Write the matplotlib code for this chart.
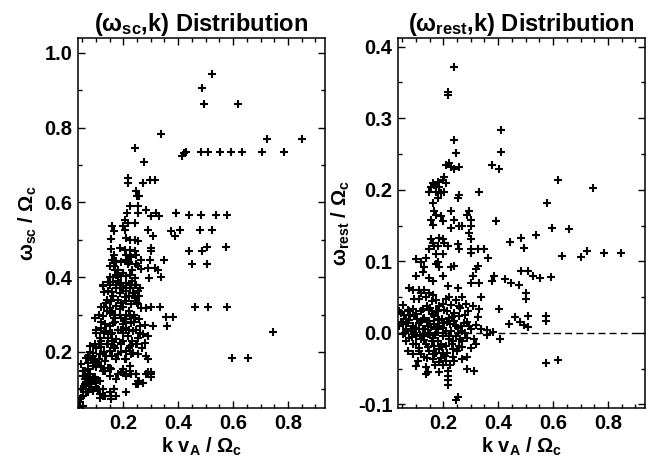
import numpy as np
import matplotlib
matplotlib.use('Agg')
import matplotlib.pyplot as plt
from matplotlib.ticker import MultipleLocator, FormatStrFormatter

# (k vA/Omega_c, omega_sc/Omega_c)
sc_sparse = [
    (0.525, 0.945), (0.486, 0.905), (0.495, 0.864), (0.618, 0.864), (0.338, 0.782),
    (0.241, 0.747), (0.724, 0.770), (0.850, 0.770),
    (0.428, 0.736), (0.484, 0.736), (0.510, 0.736), (0.551, 0.736), (0.592, 0.736),
    (0.634, 0.736), (0.704, 0.736), (0.785, 0.736), (0.413, 0.723), (0.422, 0.733),
    (0.276, 0.709), (0.441, 0.567), (0.484, 0.567), (0.537, 0.567), (0.577, 0.567),
    (0.478, 0.525), (0.525, 0.525), (0.438, 0.469), (0.486, 0.469), (0.506, 0.480),
    (0.573, 0.480), (0.450, 0.436), (0.504, 0.436), (0.462, 0.321), (0.507, 0.321),
    (0.577, 0.321), (0.744, 0.253), (0.595, 0.183), (0.656, 0.183),
]
sc_upper = [
    (0.217, 0.665), (0.217, 0.653), (0.272, 0.652), (0.296, 0.660), (0.316, 0.660),
    (0.245, 0.631), (0.251, 0.616), (0.259, 0.616), (0.225, 0.591), (0.253, 0.591),
    (0.215, 0.572), (0.253, 0.573), (0.281, 0.580), (0.320, 0.572), (0.302, 0.564),
    (0.330, 0.564), (0.393, 0.572), (0.208, 0.554), (0.217, 0.545), (0.241, 0.545),
    (0.160, 0.536), (0.199, 0.536), (0.205, 0.527), (0.165, 0.523), (0.290, 0.527),
    (0.308, 0.509), (0.375, 0.523), (0.405, 0.527), (0.387, 0.509),
    (0.156, 0.502), (0.211, 0.505), (0.223, 0.499), (0.241, 0.500), (0.253, 0.496),
    (0.156, 0.476), (0.187, 0.478), (0.205, 0.474), (0.223, 0.474), (0.241, 0.469),
    (0.302, 0.478), (0.302, 0.469), (0.168, 0.460), (0.211, 0.460), (0.229, 0.454),
    (0.247, 0.460), (0.160, 0.447), (0.175, 0.443), (0.211, 0.447), (0.217, 0.440),
    (0.265, 0.447), (0.296, 0.445), (0.350, 0.445), (0.150, 0.431), (0.168, 0.429),
    (0.181, 0.420), (0.217, 0.436), (0.247, 0.436), (0.253, 0.429), (0.265, 0.422),
    (0.290, 0.425), (0.314, 0.425), (0.326, 0.420), (0.175, 0.407), (0.181, 0.401),
    (0.193, 0.403), (0.211, 0.404), (0.223, 0.407), (0.241, 0.398), (0.293, 0.398),
    (0.338, 0.401), (0.126, 0.380), (0.144, 0.388), (0.162, 0.386), (0.175, 0.380),
    (0.187, 0.384), (0.211, 0.384), (0.229, 0.380), (0.247, 0.380),
]
sc_core = [
    (0.126, 0.376), (0.150, 0.380), (0.175, 0.372), (0.199, 0.376), (0.223, 0.372),
    (0.241, 0.380), (0.144, 0.363), (0.187, 0.358), (0.211, 0.363), (0.235, 0.358),
    (0.253, 0.363), (0.162, 0.349), (0.205, 0.347), (0.241, 0.345), (0.259, 0.349),
    (0.120, 0.320), (0.138, 0.332), (0.156, 0.336), (0.175, 0.323), (0.193, 0.332),
    (0.211, 0.336), (0.229, 0.327), (0.247, 0.336), (0.265, 0.318), (0.284, 0.318),
    (0.302, 0.320), (0.332, 0.320), (0.253, 0.327), (0.150, 0.318), (0.187, 0.316),
    (0.096, 0.292), (0.126, 0.296), (0.150, 0.305), (0.168, 0.292), (0.187, 0.300),
    (0.205, 0.287), (0.223, 0.296), (0.241, 0.292), (0.259, 0.287), (0.162, 0.278),
    (0.199, 0.274), (0.229, 0.278), (0.278, 0.272), (0.308, 0.269), (0.356, 0.294),
    (0.381, 0.294), (0.359, 0.269), (0.132, 0.274), (0.102, 0.260), (0.120, 0.265),
    (0.138, 0.256), (0.156, 0.247), (0.181, 0.260), (0.199, 0.252), (0.217, 0.243),
    (0.235, 0.256), (0.253, 0.238), (0.272, 0.247), (0.290, 0.243), (0.114, 0.238),
    (0.144, 0.238), (0.175, 0.234), (0.211, 0.265), (0.247, 0.260),
    (0.078, 0.216), (0.096, 0.222), (0.120, 0.212), (0.144, 0.220), (0.168, 0.216),
    (0.193, 0.225), (0.223, 0.216), (0.247, 0.220), (0.278, 0.225), (0.253, 0.194),
    (0.284, 0.189), (0.090, 0.198), (0.114, 0.194), (0.150, 0.203), (0.181, 0.194),
    (0.211, 0.203), (0.235, 0.198), (0.047, 0.167), (0.072, 0.189), (0.090, 0.178),
    (0.108, 0.167), (0.132, 0.176), (0.150, 0.158), (0.175, 0.180), (0.208, 0.180),
    (0.223, 0.163), (0.138, 0.189), (0.053, 0.136), (0.072, 0.127), (0.096, 0.132),
    (0.084, 0.114), (0.059, 0.114), (0.102, 0.118), (0.126, 0.149), (0.193, 0.145),
    (0.211, 0.142), (0.229, 0.142), (0.247, 0.142), (0.284, 0.142), (0.302, 0.145),
    (0.302, 0.132), (0.253, 0.123), (0.272, 0.118), (0.247, 0.114), (0.053, 0.100),
    (0.065, 0.092), (0.047, 0.078), (0.126, 0.100), (0.150, 0.094), (0.168, 0.100),
    (0.175, 0.083), (0.211, 0.092), (0.132, 0.083), (0.114, 0.087), (0.041, 0.065),
    (0.038, 0.056),
    (0.110, 0.300), (0.130, 0.320), (0.160, 0.310), (0.180, 0.340), (0.200, 0.320),
    (0.220, 0.310), (0.240, 0.300), (0.170, 0.280), (0.190, 0.290), (0.210, 0.280),
    (0.150, 0.270), (0.130, 0.250), (0.160, 0.250), (0.190, 0.260), (0.220, 0.260),
    (0.120, 0.230), (0.140, 0.220), (0.170, 0.210), (0.200, 0.230), (0.230, 0.230),
    (0.100, 0.210), (0.090, 0.190), (0.110, 0.180), (0.160, 0.190), (0.190, 0.200),
    (0.210, 0.370), (0.180, 0.390), (0.160, 0.360), (0.220, 0.350), (0.140, 0.340),
    (0.250, 0.330), (0.260, 0.250), (0.270, 0.210), (0.060, 0.150), (0.070, 0.170),
    (0.080, 0.140), (0.100, 0.160), (0.065, 0.120), (0.075, 0.100), (0.090, 0.130),
    (0.050, 0.100), (0.100, 0.120),
    (0.130, 0.360), (0.150, 0.400), (0.170, 0.420), (0.190, 0.440), (0.200, 0.410),
    (0.230, 0.420), (0.220, 0.440), (0.190, 0.370), (0.230, 0.390), (0.260, 0.370),
    (0.140, 0.310), (0.170, 0.300), (0.210, 0.300), (0.240, 0.280), (0.260, 0.270),
    (0.180, 0.260), (0.120, 0.280), (0.100, 0.250), (0.160, 0.230), (0.190, 0.220),
    (0.220, 0.210), (0.250, 0.220), (0.130, 0.200), (0.110, 0.220), (0.080, 0.200),
]
sc_low = [
    (0.065, 0.185), (0.084, 0.180), (0.096, 0.176), (0.053, 0.149), (0.072, 0.154),
    (0.090, 0.163), (0.108, 0.172), (0.120, 0.163), (0.132, 0.149), (0.144, 0.158),
    (0.078, 0.132), (0.096, 0.127), (0.114, 0.123), (0.059, 0.127), (0.065, 0.109),
    (0.084, 0.114), (0.102, 0.105), (0.047, 0.100), (0.053, 0.083), (0.041, 0.074),
    (0.072, 0.092), (0.090, 0.096), (0.108, 0.100), (0.150, 0.136), (0.156, 0.154),
    (0.175, 0.127), (0.181, 0.140), (0.199, 0.154), (0.211, 0.136), (0.223, 0.149),
    (0.247, 0.140), (0.259, 0.123), (0.253, 0.114), (0.290, 0.145), (0.302, 0.140),
    (0.290, 0.180), (0.211, 0.180), (0.229, 0.194), (0.114, 0.078), (0.126, 0.083),
    (0.156, 0.083), (0.168, 0.100), (0.053, 0.056), (0.037, 0.052), (0.156, 0.074),
]

# (k vA/Omega_c, omega_rest/Omega_c)
rest_sparse = [
    (0.240, 0.372), (0.218, 0.336), (0.218, 0.333), (0.412, 0.283), (0.240, 0.269),
    (0.412, 0.253), (0.618, 0.214), (0.745, 0.202), (0.579, 0.182), (0.596, 0.147),
    (0.658, 0.145), (0.442, 0.127), (0.482, 0.133), (0.539, 0.137), (0.493, 0.118),
    (0.634, 0.108), (0.703, 0.106), (0.725, 0.115), (0.784, 0.111), (0.848, 0.111),
    (0.482, 0.087), (0.509, 0.086), (0.527, 0.079), (0.552, 0.077), (0.594, 0.078),
    (0.448, 0.070), (0.476, 0.067), (0.424, 0.075), (0.501, 0.056), (0.503, 0.047),
    (0.509, 0.024), (0.463, 0.022), (0.439, 0.013), (0.479, 0.015), (0.493, 0.011),
    (0.509, 0.008), (0.576, 0.023), (0.573, 0.017), (0.576, -0.042), (0.618, -0.038),
    (0.406, -0.008), (0.382, 0.001), (0.358, -0.003), (0.358, 0.004), (0.376, 0.072),
    (0.364, 0.105), (0.336, 0.050), (0.327, 0.022),
]
rest_upper = [
    (0.246, 0.252), (0.222, 0.238), (0.210, 0.234), (0.228, 0.232), (0.240, 0.229),
    (0.258, 0.232), (0.379, 0.234), (0.404, 0.229), (0.204, 0.218), (0.198, 0.213),
    (0.179, 0.211), (0.161, 0.209), (0.155, 0.204), (0.149, 0.197), (0.167, 0.206),
    (0.185, 0.204), (0.210, 0.209), (0.173, 0.197), (0.192, 0.195), (0.204, 0.197),
    (0.179, 0.188), (0.161, 0.181), (0.258, 0.193), (0.252, 0.188), (0.331, 0.197),
    (0.167, 0.170), (0.173, 0.165), (0.155, 0.158), (0.161, 0.151), (0.192, 0.163),
    (0.198, 0.156), (0.228, 0.170), (0.240, 0.158), (0.258, 0.149), (0.270, 0.149),
    (0.228, 0.147), (0.295, 0.170), (0.288, 0.165), (0.301, 0.158), (0.301, 0.149),
    (0.295, 0.140), (0.301, 0.131), (0.392, 0.156), (0.155, 0.131), (0.161, 0.126),
    (0.149, 0.117), (0.167, 0.122), (0.185, 0.133), (0.198, 0.131), (0.179, 0.122),
    (0.204, 0.126), (0.216, 0.122), (0.252, 0.124), (0.258, 0.117), (0.301, 0.117),
    (0.301, 0.112), (0.325, 0.117), (0.349, 0.117), (0.173, 0.110), (0.198, 0.110),
    (0.101, 0.103), (0.137, 0.105), (0.119, 0.099), (0.131, 0.092), (0.125, 0.085),
    (0.173, 0.096), (0.179, 0.099), (0.185, 0.092), (0.228, 0.092), (0.240, 0.094),
    (0.325, 0.094), (0.319, 0.089), (0.101, 0.080), (0.198, 0.080), (0.307, 0.080),
    (0.385, 0.080),
]
rest_core = [
    (0.149, 0.076), (0.161, 0.073), (0.216, 0.066), (0.252, 0.062), (0.301, 0.069),
    (0.331, 0.069), (0.076, 0.062), (0.088, 0.060), (0.113, 0.060), (0.119, 0.055),
    (0.149, 0.055), (0.095, 0.048), (0.113, 0.048), (0.137, 0.050), (0.161, 0.053),
    (0.173, 0.046), (0.210, 0.048), (0.222, 0.050), (0.246, 0.046), (0.270, 0.050),
    (0.282, 0.041), (0.307, 0.037), (0.331, 0.034), (0.404, 0.033), (0.052, 0.039),
    (0.070, 0.032), (0.088, 0.034), (0.125, 0.034), (0.149, 0.032), (0.185, 0.037),
    (0.204, 0.032), (0.228, 0.039), (0.258, 0.037), (0.179, 0.030), (0.046, 0.028),
    (0.040, 0.030), (0.058, 0.025), (0.076, 0.018), (0.095, 0.023), (0.113, 0.014),
    (0.131, 0.021), (0.149, 0.016), (0.167, 0.023), (0.185, 0.018), (0.204, 0.014),
    (0.222, 0.021), (0.240, 0.016), (0.258, 0.023), (0.276, 0.014), (0.295, 0.009),
    (0.319, 0.011), (0.101, 0.007), (0.125, 0.005), (0.143, 0.009), (0.173, 0.005),
    (0.198, 0.007), (0.228, 0.002), (0.252, 0.007), (0.270, 0.002), (0.040, 0.009),
    (0.064, 0.005), (0.082, 0.002), (0.337, 0.005), (0.052, -0.002), (0.076, -0.007),
    (0.101, -0.005), (0.119, -0.009), (0.143, -0.002), (0.161, -0.007), (0.179, -0.011),
    (0.198, -0.005), (0.222, -0.009), (0.246, -0.005), (0.270, -0.011), (0.288, -0.007),
    (0.313, -0.009), (0.064, -0.011), (0.088, -0.016), (0.113, -0.021), (0.137, -0.016),
    (0.167, -0.018), (0.185, -0.023), (0.210, -0.018), (0.234, -0.023), (0.258, -0.018),
    (0.301, -0.021), (0.149, -0.025), (0.198, -0.028), (0.319, -0.016), (0.088, -0.030),
    (0.107, -0.039), (0.131, -0.034), (0.161, -0.037), (0.185, -0.041), (0.210, -0.039),
    (0.234, -0.034), (0.270, -0.037), (0.288, -0.034), (0.070, -0.025), (0.137, -0.048),
    (0.143, -0.055), (0.216, -0.053), (0.288, -0.050), (0.313, -0.053), (0.101, -0.046),
    (0.137, -0.057), (0.216, -0.060), (0.216, -0.066), (0.216, -0.073), (0.185, -0.055),
    (0.252, -0.089), (0.246, -0.094),
    (0.090, 0.010), (0.105, 0.020), (0.120, 0.015), (0.135, 0.005), (0.150, 0.000),
    (0.165, 0.012), (0.180, 0.006), (0.195, 0.020), (0.210, 0.003), (0.225, 0.012),
    (0.240, 0.028), (0.255, 0.000), (0.100, -0.015), (0.115, -0.003), (0.130, -0.010),
    (0.145, -0.020), (0.160, -0.012), (0.175, -0.028), (0.190, -0.016), (0.205, -0.032),
    (0.220, -0.004), (0.235, -0.012), (0.250, -0.026), (0.265, 0.010), (0.280, 0.000),
    (0.120, 0.030), (0.140, 0.038), (0.160, 0.026), (0.180, 0.020), (0.200, 0.040),
    (0.215, 0.030), (0.230, 0.022), (0.070, 0.014), (0.085, -0.006), (0.060, 0.000),
    (0.075, 0.030), (0.170, -0.045), (0.120, -0.030), (0.200, -0.045), (0.240, -0.040),
    (0.160, 0.045), (0.130, 0.060), (0.280, 0.025), (0.290, 0.030), (0.270, -0.020),
    (0.045, 0.015), (0.055, 0.012), (0.065, 0.020), (0.080, 0.025), (0.095, 0.000),
    (0.110, 0.005), (0.125, -0.005), (0.140, 0.015), (0.155, 0.008), (0.170, -0.003),
    (0.185, 0.010), (0.200, 0.000), (0.215, 0.015), (0.230, -0.015), (0.245, 0.010),
    (0.260, -0.008), (0.100, 0.027), (0.125, 0.020), (0.150, 0.035), (0.175, 0.030),
    (0.195, -0.020), (0.215, -0.028), (0.110, -0.025), (0.140, -0.035), (0.165, -0.030),
    (0.190, -0.035), (0.225, -0.045), (0.260, 0.035), (0.285, 0.015), (0.300, 0.005),
]

k_range = (0.035, 0.935)
sc_range = (0.05, 1.04)
rest_range = (-0.105, 0.412)

plt.rcParams['font.family'] = ['Liberation Sans', 'DejaVu Sans']
plt.rcParams['font.weight'] = 'bold'
plt.rcParams['axes.labelweight'] = 'bold'
plt.rcParams['axes.titleweight'] = 'bold'
plt.rcParams['mathtext.fontset'] = 'custom'
plt.rcParams['mathtext.rm'] = 'Liberation Sans:bold'
plt.rcParams['mathtext.it'] = 'Liberation Sans:bold'
plt.rcParams['mathtext.bf'] = 'Liberation Sans:bold'
plt.rcParams['axes.unicode_minus'] = False

fig = plt.figure(figsize=(6.52, 4.62), dpi=100)
ax1 = fig.add_axes([0.1196, 0.1169, 0.3789, 0.8008])
ax2 = fig.add_axes([0.6104, 0.1169, 0.3789, 0.8008])


def style(ax, ymajor, yminor):
    ax.xaxis.set_major_locator(MultipleLocator(0.2))
    ax.xaxis.set_minor_locator(MultipleLocator(0.05))
    ax.yaxis.set_major_locator(MultipleLocator(ymajor))
    ax.yaxis.set_minor_locator(MultipleLocator(yminor))
    ax.xaxis.set_major_formatter(FormatStrFormatter('%.1f'))
    ax.yaxis.set_major_formatter(FormatStrFormatter('%.1f'))
    ax.tick_params(which='both', direction='in', top=True, right=True,
                   labelsize=14.5, width=1, pad=4)
    ax.tick_params(which='major', length=5)
    ax.tick_params(which='minor', length=3)
    for s in ax.spines.values():
        s.set_linewidth(1.1)
    ax.set_xlim(*k_range)


sc = np.array(sc_sparse + sc_upper + sc_core + sc_low)
ax1.plot(sc[:, 0], sc[:, 1], '+', color='black', ms=6, mew=1.5)
style(ax1, 0.2, 0.1)
ax1.set_ylim(*sc_range)
ax1.set_title(r'($\omega_{\rm sc}$,k) Distribution', fontsize=17, pad=5)
ax1.set_xlabel(r'k v$_{\rm A}$ / $\Omega_{\rm c}$', fontsize=14.5, labelpad=2)
ax1.set_ylabel(r'$\omega_{\rm sc}$ / $\Omega_{\rm c}$', fontsize=14.5)

rest = np.array(rest_sparse + rest_upper + rest_core)
ax2.plot(rest[:, 0], rest[:, 1], '+', color='black', ms=6, mew=1.5)
ax2.axhline(0.0, color='black', lw=1, ls=(0, (5, 3)))
style(ax2, 0.1, 0.05)
ax2.set_ylim(*rest_range)
ax2.set_title(r'($\omega_{\rm rest}$,k) Distribution', fontsize=17, pad=5)
ax2.set_xlabel(r'k v$_{\rm A}$ / $\Omega_{\rm c}$', fontsize=14.5, labelpad=2)
ax2.set_ylabel(r'$\omega_{\rm rest}$ / $\Omega_{\rm c}$', fontsize=14.5)

fig.savefig('out.png', dpi=100)
